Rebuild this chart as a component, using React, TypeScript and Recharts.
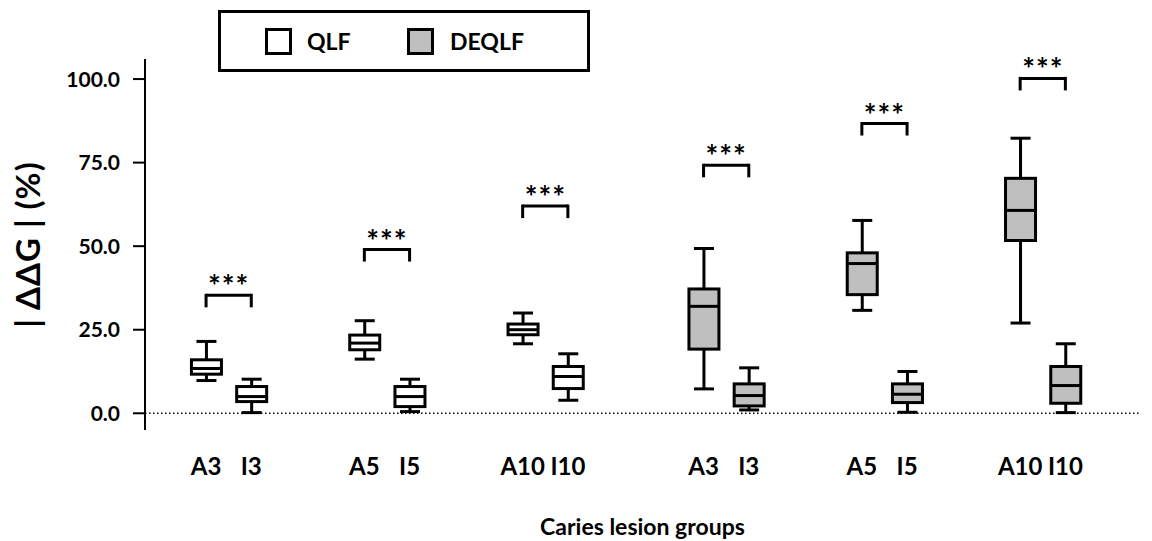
import { ComposedChart, Bar, XAxis, YAxis, ReferenceLine, Legend } from 'recharts';

const lesions = ['A3', 'I3', 'A5', 'I5', 'A10', 'I10'];
const methods = ['QLF', 'DEQLF'];

// five-number summaries, one entry per lesion group
const qlfMin = [9.8, 0.2, 16.2, 0.5, 20.8, 3.9];
const qlfQ1 = [11.7, 3.5, 19.0, 2.0, 23.5, 7.4];
const qlfMedian = [13.4, 5.0, 21.0, 5.0, 25.0, 11.0];
const qlfQ3 = [16.0, 8.0, 23.4, 8.0, 26.7, 14.0];
const qlfMax = [21.5, 10.2, 27.7, 10.2, 30.0, 17.8];

const deqlfMin = [7.3, 1.0, 30.8, 0.3, 27.0, 0.2];
const deqlfQ1 = [19.2, 2.2, 35.5, 3.2, 51.7, 3.0];
const deqlfMedian = [32.0, 5.3, 44.8, 5.7, 60.7, 8.3];
const deqlfQ3 = [37.2, 8.8, 48.0, 8.8, 70.3, 14.0];
const deqlfMax = [49.3, 13.6, 57.7, 12.5, 82.3, 20.8];

// significance brackets, one per A/I pair (QLF pairs first)
const sigHeights = [35.3, 49.0, 62.0, 74.2, 86.7, 100.2];
const sigLabels = ['***', '***', '***', '***', '***', '***'];

const yTicks = [0, 25, 50, 75, 100];

const methodFill: Record<string, string> = { QLF: '#ffffff', DEQLF: '#bfbfbf' };
const FONT = 'Lato, "Open Sans", sans-serif';

const stats = [
  [qlfMin, qlfQ1, qlfMedian, qlfQ3, qlfMax],
  [deqlfMin, deqlfQ1, deqlfMedian, deqlfQ3, deqlfMax],
];

// slot = position on the numeric x axis: pairs 7 apart, the two halves 8 apart
const rows = methods.flatMap((method, m) =>
  lesions.map((lesion, i) => {
    const [mins, q1s, meds, q3s, maxs] = stats[m];
    return {
      slot: m * 22 + Math.floor(i / 2) * 7 + (i % 2) * 2,
      lesion,
      method,
      min: mins[i],
      q1: q1s[i],
      median: meds[i],
      q3: q3s[i],
      max: maxs[i],
      range: [mins[i], maxs[i]],
    };
  })
);

const slotLabel: Record<number, string> = {};
rows.forEach((r) => (slotLabel[r.slot] = r.lesion));

const pairs = sigHeights.map((h, k) => ({
  a: rows[k * 2].slot,
  b: rows[k * 2 + 1].slot,
  y: h,
  label: sigLabels[k],
}));

const BoxShape = (props: any) => {
  const { x, y, width, height, payload } = props;
  const lo = payload.min;
  const hi = payload.max;
  const py = (v: number) => y + (height * (hi - v)) / (hi - lo);
  const cx = x + width / 2;
  const cap = 10;
  return (
    <g stroke="#000" strokeWidth={3} fill="none">
      <line x1={cx} x2={cx} y1={py(hi)} y2={py(payload.q3)} />
      <line x1={cx} x2={cx} y1={py(payload.q1)} y2={py(lo)} />
      <line x1={cx - cap} x2={cx + cap} y1={py(hi)} y2={py(hi)} />
      <line x1={cx - cap} x2={cx + cap} y1={py(lo)} y2={py(lo)} />
      <rect
        x={x}
        y={py(payload.q3)}
        width={width}
        height={py(payload.q1) - py(payload.q3)}
        fill={methodFill[payload.method]}
      />
      <line x1={x} x2={x + width} y1={py(payload.median)} y2={py(payload.median)} />
    </g>
  );
};

const LegendBox = () => (
  <div
    style={{
      position: 'relative',
      width: 372,
      height: 62,
      border: '3px solid #000',
      boxSizing: 'border-box',
      fontFamily: FONT,
      fontWeight: 700,
      fontSize: 23,
      color: '#000',
    }}
  >
    {methods.map((m, i) => (
      <div key={m}>
        <div
          style={{
            position: 'absolute',
            left: i === 0 ? 44 : 186,
            top: 15,
            width: 27,
            height: 27,
            boxSizing: 'border-box',
            border: '3px solid #000',
            background: methodFill[m],
          }}
        />
        <div
          style={{
            position: 'absolute',
            left: i === 0 ? 86 : 229,
            top: 13,
            lineHeight: '30px',
          }}
        >
          {m}
        </div>
      </div>
    ))}
  </div>
);

export default function App() {
  return (
    <div style={{ position: 'absolute', left: 0, top: 0 }}>
      <ComposedChart
        width={1152}
        height={541}
        data={rows}
        margin={{ top: 59, right: 12, bottom: 0, left: 20 }}
      >
        <XAxis
          type="number"
          dataKey="slot"
          domain={[-2.7, 41.3]}
          ticks={rows.map((r) => r.slot)}
          interval={0}
          tickFormatter={(v: number) => slotLabel[v] ?? ''}
          axisLine={false}
          tickLine={false}
          tickSize={0}
          tickMargin={28}
          height={111}
          allowDataOverflow
          tick={{ fontSize: 24, fontWeight: 700, fill: '#000', fontFamily: FONT }}
          label={{
            value: 'Caries lesion groups',
            position: 'insideBottom',
            offset: 6,
            fill: '#000',
            fontSize: 23,
            fontWeight: 700,
            fontFamily: FONT,
          }}
        />
        <YAxis
          type="number"
          domain={[-5, 106]}
          ticks={yTicks}
          interval={0}
          allowDataOverflow
          tickFormatter={(v: number) => v.toFixed(1)}
          width={125}
          tickSize={12}
          tickMargin={13}
          axisLine={{ stroke: '#000', strokeWidth: 2 }}
          tickLine={{ stroke: '#000', strokeWidth: 2 }}
          tick={{ fontSize: 21, fontWeight: 700, fill: '#000', fontFamily: FONT }}
          label={{
            value: '| ΔΔG | (%)',
            angle: -90,
            position: 'insideLeft',
            offset: 8,
            fill: '#000',
            fontSize: 33,
            fontWeight: 700,
            fontFamily: FONT,
            letterSpacing: 1,
            style: { textAnchor: 'middle', whiteSpace: 'pre' },
          }}
        />
        <ReferenceLine
          y={0}
          stroke="#000"
          strokeWidth={1.5}
          strokeDasharray="1.5 2.5"
        />
        {pairs.map((p, k) => (
          <ReferenceLine
            key={`h${k}`}
            segment={[
              { x: p.a, y: p.y },
              { x: p.b, y: p.y },
            ]}
            stroke="#000"
            strokeWidth={3}
            label={{
              value: p.label,
              position: 'top',
              offset: -2,
              fill: '#000',
              fontSize: 30,
              fontWeight: 700,
              fontFamily: FONT,
              letterSpacing: 1,
            }}
          />
        ))}
        {pairs.flatMap((p, k) =>
          [p.a, p.b].map((sx, j) => (
            <ReferenceLine
              key={`v${k}-${j}`}
              segment={[
                { x: sx, y: p.y + 0.45 },
                { x: sx, y: p.y - 3.6 },
              ]}
              stroke="#000"
              strokeWidth={3}
            />
          ))
        )}
        <Bar
          dataKey="range"
          barSize={30}
          shape={BoxShape}
          isAnimationActive={false}
        />
        <Legend
          layout="vertical"
          align="center"
          verticalAlign="middle"
          content={LegendBox}
          wrapperStyle={{ left: 218, top: 10, width: 372, height: 62 }}
        />
      </ComposedChart>
    </div>
  );
}
